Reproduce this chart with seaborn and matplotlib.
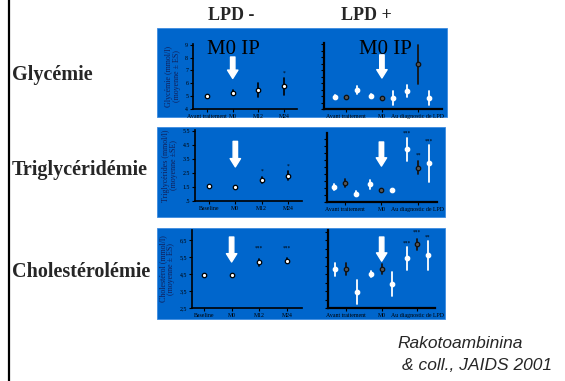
import numpy as np
import pandas as pd
import matplotlib
matplotlib.use("Agg")
import matplotlib.pyplot as plt
from matplotlib.patches import Rectangle
from matplotlib.lines import Line2D
import seaborn as sns

sns.set_style("ticks")
SERIF = ["Liberation Serif", "DejaVu Serif"]
plt.rcParams["font.family"] = SERIF

W, H = 565, 381
BLUE = "#0066CC"

# ---------------- data ----------------
series = ["S1", "S2", "S3"]
cats_gly_left = ["Avant traitement", "M0", "M12", "M24"]
cats_lip_left = ["Baseline", "M0", "M12", "M24"]
cats_right = ["Avant traitement", "M0", "Au diagnostic de LPD"]

# Glycémie, LPD -
gly_l_mean = [5.0, 5.25, 5.46, 5.77]
gly_l_err = [0.06, 0.2, 0.54, 0.67]
gly_l_sig = ["", "", "", "*"]
gly_l_sig_y = [0, 0, 0, 6.8]
# Glycémie, LPD +
gly_r_mean = {"S1": [4.95, 5.02, 5.38], "S2": [4.92, 4.87, 7.44], "S3": [5.46, 4.82, 4.87]}
gly_r_err = {"S1": [0.12, 0.1, 0.45], "S2": [0.05, 0.05, 1.5], "S3": [0.3, 0.55, 0.55]}
gly_r_sig = {"S1": ["", "", ""], "S2": ["", "", ""], "S3": ["", "", ""]}
gly_r_sig_y = {"S1": [0, 0, 0], "S2": [0, 0, 0], "S3": [0, 0, 0]}

# Triglycérides, LPD -
tg_l_mean = [1.55, 1.5, 2.0, 2.3]
tg_l_err = [0.1, 0.05, 0.2, 0.3]
tg_l_sig = ["", "", "*", "*"]
tg_l_sig_y = [0, 0, 2.6, 3.0]
# Triglycérides, LPD +
tg_r_mean = {"S1": [1.57, 1.76, 4.26], "S2": [1.86, 1.33, 2.95], "S3": [1.1, 1.33, 3.26]}
tg_r_err = {"S1": [0.2, 0.3, 0.8], "S2": [0.3, 0.08, 0.45], "S3": [0.2, 0.1, 1.3]}
tg_r_sig = {"S1": ["", "", "***"], "S2": ["", "", "**"], "S3": ["", "", "***"]}
tg_r_sig_y = {"S1": [0, 0, 5.45], "S2": [0, 0, 3.86], "S3": [0, 0, 4.86]}

# Cholestérol, LPD -
ch_l_mean = [4.42, 4.42, 5.2, 5.3]
ch_l_err = [0.08, 0.05, 0.2, 0.15]
ch_l_sig = ["", "", "***", "***"]
ch_l_sig_y = [0, 0, 6.0, 6.0]
# Cholestérol, LPD +
ch_r_mean = {"S1": [4.78, 4.5, 5.42], "S2": [4.78, 4.78, 6.25], "S3": [3.46, 3.93, 5.6]}
ch_r_err = {"S1": [0.4, 0.2, 0.7], "S2": [0.35, 0.3, 0.3], "S3": [0.7, 0.7, 0.85]}
ch_r_sig = {"S1": ["", "", "***"], "S2": ["", "", "***"], "S3": ["", "", "**"]}
ch_r_sig_y = {"S1": [0, 0, 6.35], "S2": [0, 0, 6.97], "S3": [0, 0, 6.7]}

gly_ticks = [4, 5, 6, 7, 8, 9]
gly_ticklabels = ["4", "5", "6", "7", "8", "9"]
tg_ticks = [0.5, 1.5, 2.5, 3.5, 4.5, 5.5]
tg_ticklabels = [".5", "1.5", "2.5", "3.5", "4.5", "5.5"]
ch_ticks = [2.5, 3.5, 4.5, 5.5, 6.5]
ch_ticklabels = ["2,5", "3,5", "4,5", "5,5", "6,5"]

ylabels = ["Glycémie (mmol/l)\n(moyenne ± ES)",
           "Triglycérides (mmol/l)\n(moyenne ±SE)",
           "Cholestérol (mmol/l)\n(moyenne ± ES)"]
row_names = ["Glycémie", "Triglycéridémie", "Cholestérolémie"]


def long_left(cats, mean, err):
    rows = []
    for c, m, e in zip(cats, mean, err):
        for v in (m - e, m, m + e):
            rows.append({"cat": c, "val": v})
    return pd.DataFrame(rows)


def long_right(cats, mean, err):
    rows = []
    for s in series:
        for c, m, e in zip(cats, mean[s], err[s]):
            for v in (m - e, m, m + e):
                rows.append({"cat": c, "serie": s, "val": v})
    return pd.DataFrame(rows)


fig = plt.figure(figsize=(W / 100, H / 100), dpi=100)


def px_axes(x0, yt, x1, yb):
    return fig.add_axes([x0 / W, 1 - yb / H, (x1 - x0) / W, (yb - yt) / H])


def style(ax, lw=1.2):
    ax.patch.set_visible(False)
    for s in ("top", "right"):
        ax.spines[s].set_visible(False)
    for s in ("left", "bottom"):
        ax.spines[s].set_color("black")
        ax.spines[s].set_linewidth(lw)
    ax.tick_params(axis="both", length=2, width=0.8, labelsize=4.2, pad=1.5,
                   colors="black")
    for t in ax.get_xticklabels() + ax.get_yticklabels():
        t.set_family(SERIF)
    ax.set_xlabel("")


def arrow(ax, x, ytop, ybot):
    ax.annotate("", xy=(x, ybot), xytext=(x, ytop),
                xycoords=("data", "axes fraction"),
                textcoords=("data", "axes fraction"),
                arrowprops=dict(arrowstyle="simple,head_length=0.6,head_width=0.75,tail_width=0.32",
                                color="white", shrinkA=0, shrinkB=0, mutation_scale=10))


def point_lines(ax):
    return [l for l in ax.lines if l.get_marker() not in (None, "None", "", " ")]


# blue backgrounds
for (x0, yt, x1, yb) in [(157, 28, 447, 117), (157, 127, 445, 217), (157, 228, 445, 319)]:
    fig.add_artist(Rectangle((x0 / W, 1 - yb / H), (x1 - x0) / W, (yb - yt) / H,
                             transform=fig.transFigure, facecolor=BLUE,
                             edgecolor="#3d8be0", linewidth=0.6, zorder=-10))

left_specs = [
    ((193, 44, 297, 109), cats_gly_left, gly_l_mean, gly_l_err, gly_l_sig, gly_l_sig_y,
     (4, 9.05), (-0.545, 3.5), gly_ticks, gly_ticklabels, (0.8, 0.47)),
    ((195, 130, 302, 201), cats_lip_left, tg_l_mean, tg_l_err, tg_l_sig, tg_l_sig_y,
     (0.5, 5.55), (-0.53, 3.53), tg_ticks, tg_ticklabels, (0.84, 0.48)),
    ((192, 230, 302, 308), cats_lip_left, ch_l_mean, ch_l_err, ch_l_sig, ch_l_sig_y,
     (2.5, 7.1), (-0.43, 3.54), ch_ticks, ch_ticklabels, (0.91, 0.59)),
]
right_specs = [
    ((324, 43, 442, 109), gly_r_mean, gly_r_err, gly_r_sig, gly_r_sig_y,
     (4, 9.08), (-0.61, 2.67), np.arange(4, 9.01, 0.5), (0.82, 0.47)),
    ((327, 133, 437, 202), tg_r_mean, tg_r_err, tg_r_sig, tg_r_sig_y,
     (0.5, 5.43), (-0.49, 2.52), np.arange(0.5, 5.41, 0.5), (0.87, 0.52)),
    ((328, 230, 435, 308), ch_r_mean, ch_r_err, ch_r_sig, ch_r_sig_y,
     (2.5, 7.1), (-0.51, 2.5), np.arange(2.5, 7.01, 0.5), (0.91, 0.60)),
]

for i, (rect, cats, mean, err, sig, sigy, ylim, xlim, ticks, tlabels, arr) in enumerate(left_specs):
    ax = px_axes(*rect)
    df = long_left(cats, mean, err)
    sns.pointplot(data=df, x="cat", y="val", order=cats, color="black",
                  errorbar=("pi", 100), linestyle="none", marker="o",
                  markersize=3.2, markeredgewidth=0.9,
                  err_kws={"linewidth": 1.2}, ax=ax)
    for l in point_lines(ax):
        l.set_markerfacecolor("white")
        l.set_markeredgecolor("black")
        l.set_zorder(5)
    ax.set_ylim(*ylim)
    ax.set_xlim(*xlim)
    ax.set_yticks(ticks)
    ax.set_yticklabels(tlabels)
    style(ax)
    ax.set_ylabel(ylabels[i], fontsize=5.8, labelpad=3, linespacing=1.0,
                  family=SERIF, color="#10205a")
    for j, (s, sy) in enumerate(zip(sig, sigy)):
        if s:
            ax.text(j, sy, s, ha="center", va="center", fontsize=4, color="black")
    arrow(ax, 1, *arr)

for i, (rect, mean, err, sig, sigy, ylim, xlim, ticks, arr) in enumerate(right_specs):
    ax = px_axes(*rect)
    df = long_right(cats_right, mean, err)
    sns.pointplot(data=df, x="cat", y="val", hue="serie", order=cats_right,
                  hue_order=series,
                  palette={"S1": "white", "S2": "#151515", "S3": "white"},
                  errorbar=("pi", 100), dodge=0.6, linestyle="none", marker="o",
                  markersize=3.2, markeredgewidth=0.9,
                  err_kws={"linewidth": 1.3}, legend=False, ax=ax)
    pls = point_lines(ax)
    for k, l in enumerate(pls):
        if k == 1:
            l.set_markerfacecolor("#555555")
            l.set_markeredgecolor("#101010")
        else:
            l.set_markerfacecolor("white")
            l.set_markeredgecolor("white")
        l.set_zorder(5)
    ax.set_ylim(*ylim)
    ax.set_xlim(*xlim)
    ax.set_yticks(ticks)
    ax.set_yticklabels([])
    style(ax, lw=1.6)
    ax.set_ylabel("")
    for k, s in enumerate(series):
        xs = pls[k].get_xdata()
        for j, (t, ty) in enumerate(zip(sig[s], sigy[s])):
            if t:
                ax.text(xs[j], ty, t, ha="center", va="center", fontsize=4,
                        color="black")
    arrow(ax, 1, *arr)

# texts
fig.text(233 / W, 1 - 50 / H, "M0 IP", fontsize=15, family=SERIF,
         ha="center", va="center", color="black")
fig.text(385 / W, 1 - 50 / H, "M0 IP", fontsize=15, family=SERIF,
         ha="center", va="center", color="black")
fig.text(231 / W, 1 - 15 / H, "LPD -", fontsize=13, fontweight="bold", family=SERIF,
         ha="center", va="center")
fig.text(366 / W, 1 - 15 / H, "LPD +", fontsize=13, fontweight="bold", family=SERIF,
         ha="center", va="center")
for name, y in zip(row_names, [75, 170, 272]):
    fig.text(12 / W, 1 - y / H, name, fontsize=14.5, fontweight="bold", family=SERIF,
             ha="left", va="center")

fig.text(397 / W, 1 - 343 / H, "Rakotoambinina", fontsize=12.5, style="italic",
         family=["Liberation Sans", "DejaVu Sans"], ha="left", va="center")
fig.text(402 / W, 1 - 365 / H, "& coll., JAIDS 2001", fontsize=12.5, style="italic",
         family=["Liberation Sans", "DejaVu Sans"], ha="left", va="center")

fig.add_artist(Line2D([9 / W, 9 / W], [0, 1], transform=fig.transFigure,
                      color="black", linewidth=1.6))

fig.savefig("out.png", dpi=100)
